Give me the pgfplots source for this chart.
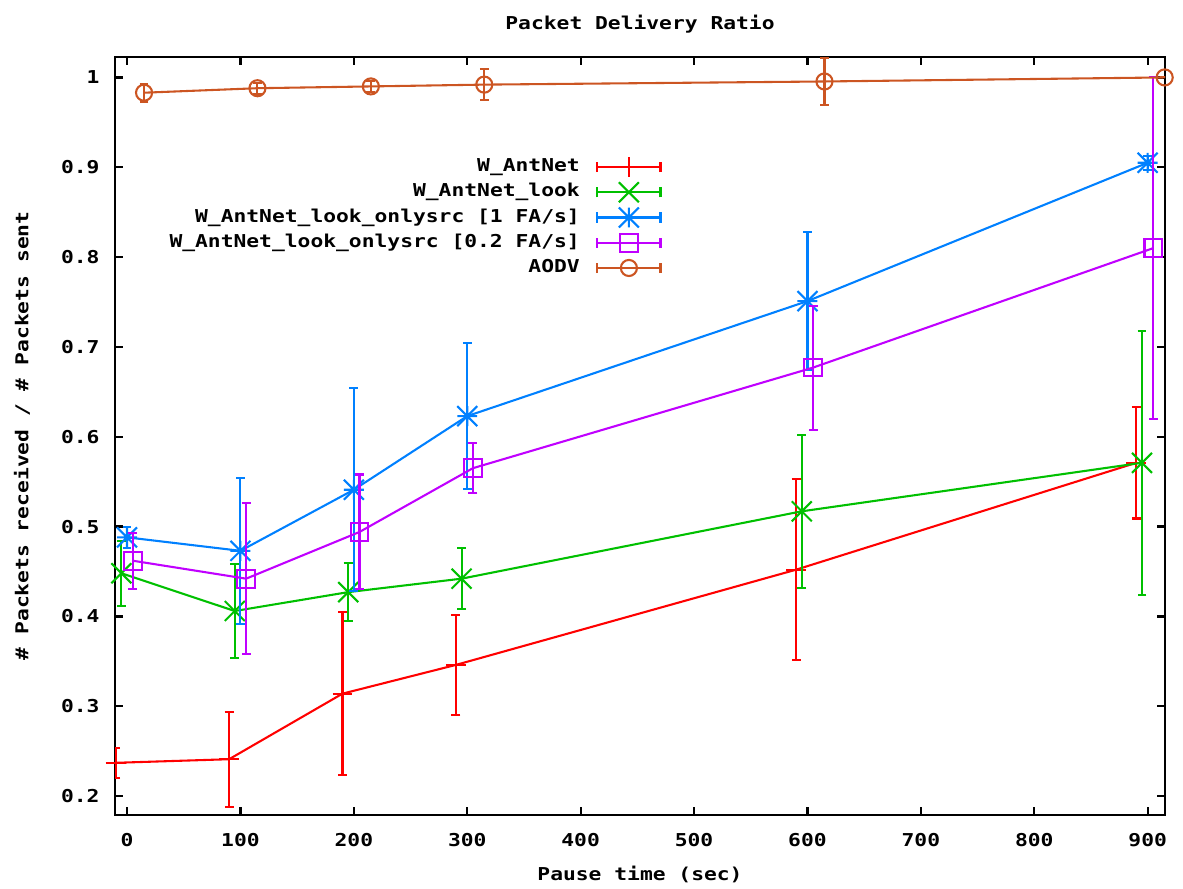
\documentclass[border=0pt]{standalone}
\usepackage{fontspec}
\usepackage{pgfplots}
\pgfplotsset{compat=1.18}
\newfontfamily\gp{DejaVu Sans Mono Bold}[FakeStretch=1.2]
\definecolor{gpred}{RGB}{255,0,0}
\definecolor{gpgreen}{RGB}{0,192,0}
\definecolor{gpblue}{RGB}{0,128,255}
\definecolor{gpmag}{RGB}{192,0,255}
\definecolor{gporange}{RGB}{204,85,34}

% gnuplot style "*" : a plus and a cross on top of each other
\pgfdeclareplotmark{gpstar}{%
  \pgfpathmoveto{\pgfqpoint{0pt}{\pgfplotmarksize}}%
  \pgfpathlineto{\pgfqpoint{0pt}{-\pgfplotmarksize}}%
  \pgfpathmoveto{\pgfqpoint{\pgfplotmarksize}{0pt}}%
  \pgfpathlineto{\pgfqpoint{-\pgfplotmarksize}{0pt}}%
  \pgfpathmoveto{\pgfqpoint{\pgfplotmarksize}{\pgfplotmarksize}}%
  \pgfpathlineto{\pgfqpoint{-\pgfplotmarksize}{-\pgfplotmarksize}}%
  \pgfpathmoveto{\pgfqpoint{\pgfplotmarksize}{-\pgfplotmarksize}}%
  \pgfpathlineto{\pgfqpoint{-\pgfplotmarksize}{\pgfplotmarksize}}%
  \pgfusepathqstroke}

\begin{document}
\begin{tikzpicture}
  \path[use as bounding box] (-1.458cm,-0.93cm) rectangle (13.538cm,10.33cm);
  \begin{axis}[
      scale only axis,
      width=13.31cm, height=9.61cm,
      xmin=-10.6, xmax=915.3,
      ymin=0.179, ymax=1.023,
      xtick={0,100,...,900},
      ytick={0.2,0.3,...,1.0},
      tick align=inside,
      major tick length=0.1cm,
      axis line style={line width=0.8pt},
      every tick/.style={black, line width=0.8pt},
      font=\gp\fontsize{6.4}{7.7}\selectfont,
      /pgf/number format/assume math mode=true,
      /pgf/number format/fixed,
      /pgf/number format/precision=1,
      yticklabel style={anchor=east, inner xsep=0pt, xshift=-0.19cm},
      xticklabel style={anchor=center, yshift=-0.317cm},
      title={Packet Delivery Ratio},
      title style={at={(axis description cs:0.5,1.0212)}, anchor=center},
      xlabel={Pause time (sec)},
      xlabel style={at={(axis description cs:0.5,-0.0791)}, anchor=center},
      ylabel={\# Packets received / \# Packets sent},
      ylabel style={at={(axis description cs:-0.0887,0.5)}, anchor=center},
      clip mode=individual,
      legend plot pos=right,
      legend cell align=right,
      legend style={draw=none, fill=none, inner sep=0pt,
        at={(rel axis cs:0.521,0.872)}, anchor=north east,
        column sep=0.21cm, row sep=0pt,
        nodes={inner sep=0pt, minimum height=0.32cm}},
      legend image code/.code={
        \draw[mark repeat=2, mark phase=2, #1] plot coordinates {(0cm,0cm) (0.4cm,0cm) (0.8cm,0cm)};
        \draw[#1, mark=none] (0cm,-0.065cm) -- (0cm,0.065cm) (0.8cm,-0.065cm) -- (0.8cm,0.065cm);
      },
      every axis plot/.append style={line width=0.75pt,
        error bars/y dir=both, error bars/y explicit,
        error bars/error mark=|,
        error bars/error mark options={mark size=1.6pt, line width=0.75pt}},
    ]
    \addplot[gpred, mark=+, mark size=3.6pt,
      error bars/error bar style={gpred, line width=0.75pt}] coordinates {
      (-10,0.237) +- (0,0.017)
      (90,0.241) +- (0,0.053)
      (190,0.314) +- (0,0.091)
      (290,0.346) +- (0,0.056)
      (590,0.452) +- (0,0.101)
      (890,0.571) +- (0,0.062)
    };
    \addlegendentry{W\_AntNet}
    \addplot[gpgreen, mark=x, mark size=5.1pt,
      error bars/error bar style={gpgreen, line width=0.75pt}] coordinates {
      (-5,0.448) +- (0,0.036)
      (95,0.406) +- (0,0.052)
      (195,0.427) +- (0,0.032)
      (295,0.442) +- (0,0.034)
      (595,0.517) +- (0,0.085)
      (895,0.571) +- (0,0.147)
    };
    \addlegendentry{W\_AntNet\_look}
    \addplot[gpblue, mark=gpstar, mark size=3.6pt,
      error bars/error bar style={gpblue, line width=0.75pt}] coordinates {
      (0,0.488) +- (0,0.012)
      (100,0.473) +- (0,0.081)
      (200,0.541) +- (0,0.113)
      (300,0.623) +- (0,0.081)
      (600,0.751) +- (0,0.077)
      (900,0.905) +- (0,0.008)
    };
    \addlegendentry{W\_AntNet\_look\_onlysrc [1 FA/s]}
    \addplot[gpmag, mark=square, mark size=3.2pt,
      error bars/error bar style={gpmag, line width=0.75pt}] coordinates {
      (5,0.462) +- (0,0.031)
      (105,0.442) +- (0,0.084)
      (205,0.494) +- (0,0.064)
      (305,0.565) +- (0,0.028)
      (605,0.677) +- (0,0.069)
      (905,0.810) +- (0,0.190)
    };
    \addlegendentry{W\_AntNet\_look\_onlysrc [0.2 FA/s]}
    \addplot[gporange, mark=o, mark size=2.9pt,
      error bars/error bar style={gporange, line width=0.75pt}] coordinates {
      (15,0.983) +- (0,0.010)
      (115,0.988) +- (0,0.006)
      (215,0.990) +- (0,0.006)
      (315,0.992) +- (0,0.017)
      (615,0.9955) +- (0,0.026)
      (915,1.000) +- (0,0.000)
    };
    \addlegendentry{AODV}
  \end{axis}
\end{tikzpicture}
\end{document}
